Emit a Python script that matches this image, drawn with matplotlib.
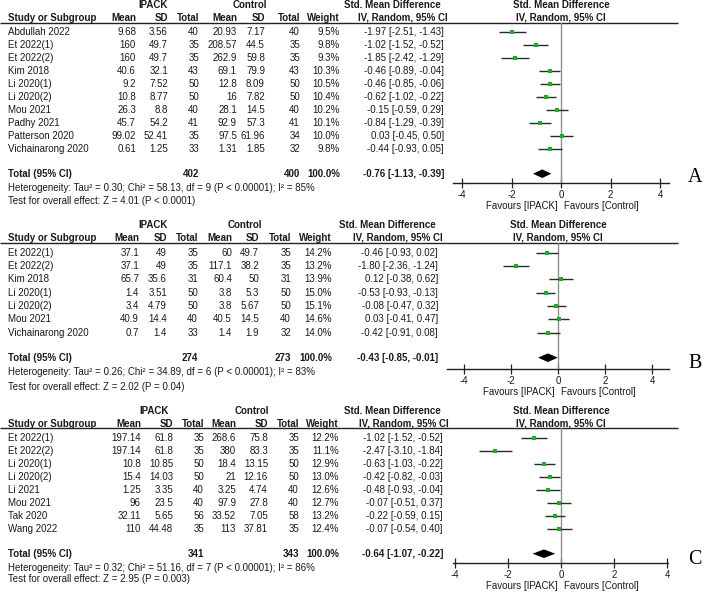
import matplotlib
matplotlib.use("Agg")
import matplotlib.pyplot as plt
import matplotlib.transforms as mtransforms

plt.rcParams['font.family'] = ['Liberation Sans', 'DejaVu Sans']

# ---------------- DATA ----------------
# Panel A
studies_A = ["Abdullah 2022", "Et 2022(1)", "Et 2022(2)", "Kim 2018", "Li 2020(1)", "Li 2020(2)",
             "Mou 2021", "Padhy 2021", "Patterson 2020", "Vichainarong 2020"]
ipack_mean_A = [9.68, 160, 160, 40.6, 9.2, 10.8, 26.3, 45.7, 99.02, 0.61]
ipack_sd_A = [3.56, 49.7, 49.7, 32.1, 7.52, 8.77, 8.8, 54.2, 52.41, 1.25]
ipack_n_A = [40, 35, 35, 43, 50, 50, 40, 41, 35, 33]
ctrl_mean_A = [20.93, 208.57, 262.9, 69.1, 12.8, 16, 28.1, 92.9, 97.5, 1.31]
ctrl_sd_A = [7.17, 44.5, 59.8, 79.9, 8.09, 7.82, 14.5, 57.3, 61.96, 1.85]
ctrl_n_A = [40, 35, 35, 43, 50, 50, 40, 41, 34, 32]
weight_A = [9.5, 9.8, 9.3, 10.3, 10.5, 10.4, 10.2, 10.1, 10.0, 9.8]
smd_A = [-1.97, -1.02, -1.85, -0.46, -0.46, -0.62, -0.15, -0.84, 0.03, -0.44]
lo_A = [-2.51, -1.52, -2.42, -0.89, -0.85, -1.02, -0.59, -1.29, -0.45, -0.93]
hi_A = [-1.43, -0.52, -1.29, -0.04, -0.06, -0.22, 0.29, -0.39, 0.50, 0.05]
total_A = [402, 400]
pooled_A = [-0.76, -1.13, -0.39]
het_A = ["0.30", "58.13", "9", "< 0.00001", "85"]
z_A = ["4.01", "< 0.0001"]

# Panel B
studies_B = ["Et 2022(1)", "Et 2022(2)", "Kim 2018", "Li 2020(1)", "Li 2020(2)", "Mou 2021",
             "Vichainarong 2020"]
ipack_mean_B = [37.1, 37.1, 65.7, 1.4, 3.4, 40.9, 0.7]
ipack_sd_B = [49, 49, 35.6, 3.51, 4.79, 14.4, 1.4]
ipack_n_B = [35, 35, 31, 50, 50, 40, 33]
ctrl_mean_B = [60, 117.1, 60.4, 3.8, 3.8, 40.5, 1.4]
ctrl_sd_B = [49.7, 38.2, 50, 5.3, 5.67, 14.5, 1.9]
ctrl_n_B = [35, 35, 31, 50, 50, 40, 32]
weight_B = [14.2, 13.2, 13.9, 15.0, 15.1, 14.6, 14.0]
smd_B = [-0.46, -1.80, 0.12, -0.53, -0.08, 0.03, -0.42]
lo_B = [-0.93, -2.36, -0.38, -0.93, -0.47, -0.41, -0.91]
hi_B = [0.02, -1.24, 0.62, -0.13, 0.32, 0.47, 0.08]
total_B = [274, 273]
pooled_B = [-0.43, -0.85, -0.01]
het_B = ["0.26", "34.89", "6", "< 0.00001", "83"]
z_B = ["2.02", "= 0.04"]

# Panel C
studies_C = ["Et 2022(1)", "Et 2022(2)", "Li 2020(1)", "Li 2020(2)", "Li 2021", "Mou 2021",
             "Tak 2020", "Wang 2022"]
ipack_mean_C = [197.14, 197.14, 10.8, 15.4, 1.25, 96, 32.11, 110]
ipack_sd_C = [61.8, 61.8, 10.85, 14.03, 3.35, 23.5, 5.65, 44.48]
ipack_n_C = [35, 35, 50, 50, 40, 40, 56, 35]
ctrl_mean_C = [268.6, 380, 18.4, 21, 3.25, 97.9, 33.52, 113]
ctrl_sd_C = [75.8, 83.3, 13.15, 12.16, 4.74, 27.8, 7.05, 37.81]
ctrl_n_C = [35, 35, 50, 50, 40, 40, 58, 35]
weight_C = [12.2, 11.1, 12.9, 13.0, 12.6, 12.7, 13.2, 12.4]
smd_C = [-1.02, -2.47, -0.63, -0.42, -0.48, -0.07, -0.22, -0.07]
lo_C = [-1.52, -3.10, -1.03, -0.82, -0.93, -0.51, -0.59, -0.54]
hi_C = [-0.52, -1.84, -0.22, -0.03, -0.04, 0.37, 0.15, 0.40]
total_C = [341, 343]
pooled_C = [-0.64, -1.07, -0.22]
het_C = ["0.32", "51.16", "7", "< 0.00001", "86"]
z_C = ["2.95", "= 0.003"]

ticks = [-4, -2, 0, 2, 4]
col_headers = ["Mean", "SD", "Total", "Mean", "SD", "Total", "Weight"]

# ---------------- LAYOUT (pixels) ----------------
W, H = 708, 595
layout = {
    "A": dict(hdr1=5.5, hdr2=18, line=23, row0=32.3, step=12.97, tot=173.7, het=188.3, test=201,
              cols=[136, 168, 199, 237, 265, 300, 340], ci=444, ipack=153, ctrl=250,
              smd1=392, smd2=403, zero=561, unit=24.75, axl=453, axr=669, axy=183,
              fav=206, lab_y=178),
    "B": dict(hdr1=225, hdr2=238, line=243, row0=252.7, step=13.33, tot=357.7, het=372.3, test=386.7,
              cols=[139, 167, 198, 232, 259, 291, 332], ci=438, ipack=153, ctrl=245,
              smd1=387, smd2=398, zero=558, unit=23.5, axl=447, axr=669, axy=369,
              fav=391.7, lab_y=363),
    "C": dict(hdr1=411, hdr2=424, line=428, row0=438.3, step=12.9, tot=553.7, het=567.7, test=579.3,
              cols=[141, 173, 204, 236, 268, 299, 339], ci=443, ipack=154, ctrl=252,
              smd1=392, smd2=404, zero=561, unit=26.6, axl=453, axr=668, axy=562.7,
              fav=585.7, lab_y=560),
}

panels = [
    ("A", studies_A, ipack_mean_A, ipack_sd_A, ipack_n_A, ctrl_mean_A, ctrl_sd_A, ctrl_n_A,
     weight_A, smd_A, lo_A, hi_A, total_A, pooled_A, het_A, z_A),
    ("B", studies_B, ipack_mean_B, ipack_sd_B, ipack_n_B, ctrl_mean_B, ctrl_sd_B, ctrl_n_B,
     weight_B, smd_B, lo_B, hi_B, total_B, pooled_B, het_B, z_B),
    ("C", studies_C, ipack_mean_C, ipack_sd_C, ipack_n_C, ctrl_mean_C, ctrl_sd_C, ctrl_n_C,
     weight_C, smd_C, lo_C, hi_C, total_C, pooled_C, het_C, z_C),
]

FS = 7.0
TC = "#1a1a1a"
fig = plt.figure(figsize=(W / 100, H / 100), dpi=100)
tx = fig.add_axes([0, 0, 1, 1])
tx.set_xlim(0, W)
tx.set_ylim(H, 0)
tx.axis("off")


def g(v):
    return f"{v:g}"


def ci_str(e, l, h):
    return f"{e:.2f} [{l:.2f}, {h:.2f}]"


for (name, st, m1, s1, n1, m2, s2, n2, wt, smd, lo, hi, tot, pooled, het, z) in panels:
    L = layout[name]
    # header text
    tx.text(L["ipack"], L["hdr1"], "IPACK", ha="center", va="center", fontsize=FS, weight="bold", color=TC)
    tx.text(L["ctrl"], L["hdr1"], "Control", ha="center", va="center", fontsize=FS, weight="bold", color=TC)
    tx.text(L["smd1"], L["hdr1"], "Std. Mean Difference", ha="center", va="center", fontsize=FS, weight="bold", color=TC)
    tx.text(L["smd2"], L["hdr2"], "IV, Random, 95% CI", ha="center", va="center", fontsize=FS, weight="bold", color=TC)
    tx.text(8, L["hdr2"], "Study or Subgroup", ha="left", va="center", fontsize=FS, weight="bold", color=TC)
    for cx, hname in zip(L["cols"], col_headers):
        tx.text(cx, L["hdr2"], hname, ha="right", va="center", fontsize=FS, weight="bold", color=TC)
    tx.plot([0, 678], [L["line"], L["line"]], color="#222222", lw=1.0, solid_capstyle="butt")

    # rows
    for i in range(len(st)):
        y = L["row0"] + i * L["step"]
        vals = [g(m1[i]), g(s1[i]), str(n1[i]), g(m2[i]), g(s2[i]), str(n2[i]), f"{wt[i]:.1f}%"]
        tx.text(8, y, st[i], ha="left", va="center", fontsize=FS, color=TC)
        for cx, v in zip(L["cols"], vals):
            tx.text(cx, y, v, ha="right", va="center", fontsize=FS, color=TC)
        tx.text(L["ci"], y, ci_str(smd[i], lo[i], hi[i]), ha="right", va="center", fontsize=FS, color=TC)

    # total row
    yt = L["tot"]
    tx.text(8, yt, "Total (95% CI)", ha="left", va="center", fontsize=FS, weight="bold", color=TC)
    tx.text(L["cols"][2], yt, str(tot[0]), ha="right", va="center", fontsize=FS, weight="bold", color=TC)
    tx.text(L["cols"][5], yt, str(tot[1]), ha="right", va="center", fontsize=FS, weight="bold", color=TC)
    tx.text(L["cols"][6], yt, "100.0%", ha="right", va="center", fontsize=FS, weight="bold", color=TC)
    tx.text(L["ci"], yt, ci_str(*pooled), ha="right", va="center", fontsize=FS, weight="bold", color=TC)
    tx.text(8, L["het"], f"Heterogeneity: Tau² = {het[0]}; Chi² = {het[1]}, df = {het[2]} (P {het[3]}); I² = {het[4]}%",
            ha="left", va="center", fontsize=FS, color=TC)
    tx.text(8, L["test"], f"Test for overall effect: Z = {z[0]} (P {z[1]})",
            ha="left", va="center", fontsize=FS, color=TC)

    # forest axes
    axl, axr, axy, top = L["axl"], L["axr"], L["axy"], L["line"]
    ax = fig.add_axes([axl / W, 1 - axy / H, (axr - axl) / W, (axy - top) / H])
    ax.set_xlim((axl - L["zero"]) / L["unit"], (axr - L["zero"]) / L["unit"])
    ax.set_ylim(axy, top)
    ax.patch.set_alpha(0)
    for s in ["top", "left", "right"]:
        ax.spines[s].set_visible(False)
    ax.spines["bottom"].set_color("#222222")
    ax.spines["bottom"].set_linewidth(1.0)
    ax.set_yticks([])
    ax.set_xticks(ticks)
    ax.set_xticklabels([str(t) for t in ticks])
    ax.tick_params(axis="x", direction="inout", length=7, width=0.9, color="#222222",
                   labelsize=FS, labelcolor=TC, pad=1.5)
    ax.axvline(0, color="#8f8f8f", lw=1.0)
    ys = [L["row0"] + i * L["step"] for i in range(len(st))]
    ax.hlines(ys, lo, hi, color="#2a2a2a", lw=1.0)
    ax.plot(smd, ys, "s", color="#14b414", markersize=3.4, markeredgewidth=0)
    e, l, h = pooled
    hh = 4.3
    ax.fill([l, e, h, e], [yt, yt - hh, yt, yt + hh], color="black", lw=0)

    bt = mtransforms.blended_transform_factory(ax.transData, tx.transData)
    tx.text(0, L["hdr1"], "Std. Mean Difference", transform=bt, ha="center", va="center", fontsize=FS, weight="bold", color=TC)
    tx.text(0, L["hdr2"], "IV, Random, 95% CI", transform=bt, ha="center", va="center", fontsize=FS, weight="bold", color=TC)
    tx.text(-0.12, L["fav"], "Favours [IPACK]", transform=bt, ha="right", va="center", fontsize=FS, color=TC)
    tx.text(0.12, L["fav"], "Favours [Control]", transform=bt, ha="left", va="center", fontsize=FS, color=TC)
    tx.text(695, L["lab_y"], name, ha="center", va="center", fontsize=14.5, family="Liberation Serif", color="black")

fig.savefig("out.png", dpi=100)
